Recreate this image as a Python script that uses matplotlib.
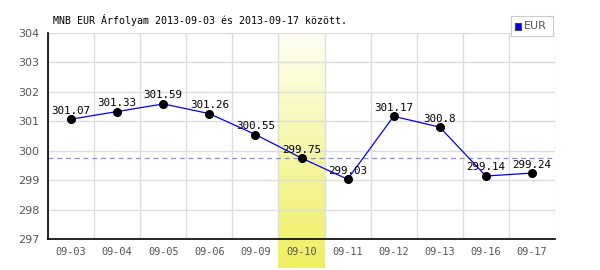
import matplotlib
matplotlib.use("Agg")
import matplotlib.pyplot as plt
import numpy as np
from matplotlib.colors import LinearSegmentedColormap

dates = ["09-03", "09-04", "09-05", "09-06", "09-09", "09-10", "09-11", "09-12", "09-13", "09-16", "09-17"]
values = [301.07, 301.33, 301.59, 301.26, 300.55, 299.75, 299.03, 301.17, 300.8, 299.14, 299.24]
labels = ["301.07", "301.33", "301.59", "301.26", "300.55", "299.75", "299.03", "301.17", "300.8", "299.14", "299.24"]
mean_line = 299.75
highlight_idx = 5
title = "MNB EUR Árfolyam 2013-09-03 és 2013-09-17 között."

mono = "DejaVu Sans Mono"
fig = plt.figure(figsize=(6, 2.7), dpi=100)
ax = fig.add_axes([48/600, 1-239/270, (555-48)/600, (239-33)/270])
n = len(dates)
x = np.arange(n)

# highlight gradient band extending below axis
ybot = 297 - 29 / (206/7)
grad = np.linspace(0, 1, 256).reshape(-1, 1)
cmap = LinearSegmentedColormap.from_list("hl", ["#efef60", "#f6f6a8", "#fffff4"])
ax.imshow(grad, cmap=cmap, aspect="auto", origin="lower",
          extent=(highlight_idx-0.5, highlight_idx+0.5, ybot, 304),
          zorder=0, clip_on=False)
ax.set_xlim(-0.5, n-0.5)
ax.set_ylim(297, 304)

# grid
for b in np.arange(-0.5, n, 1.0):
    ax.axvline(b, color="#dddddd", lw=1, zorder=0.6)
for yv in range(297, 305):
    ax.axhline(yv, color="#dddddd", lw=1, zorder=0.6)

ax.axhline(mean_line, color="#8888ff", lw=0.9, ls=(0, (4, 3)), zorder=1)
ax.plot(x, values, color="#0000ff", lw=0.9, zorder=2)
ax.plot(x, values, "o", color="black", ms=5.5, zorder=3)
for xi, v, lab in zip(x, values, labels):
    ax.text(xi, v + 0.12, lab, ha="center", va="bottom", fontsize=7.8,
            family=mono, color="black", zorder=4)

for s in ["top", "right"]:
    ax.spines[s].set_visible(False)
ax.spines["left"].set_color("black")
ax.spines["bottom"].set_color("black")
ax.spines["left"].set_linewidth(1.2)
ax.spines["bottom"].set_linewidth(1.2)
ax.set_xticks(x)
ax.set_xticklabels(dates, family=mono, fontsize=7.4, color="#555555")
ax.set_yticks(range(297, 305))
ax.set_yticklabels([str(v) for v in range(297, 305)], fontsize=8, color="#555555")
ax.tick_params(length=0, pad=6)

fig.text(53/600, 1-20/270, title, family=mono, fontsize=7.2, color="black", va="center")

# legend
lax = fig.add_axes([511/600, 1-36/270, 42/600, 20/270])
lax.set_xticks([]); lax.set_yticks([])
for s in lax.spines.values():
    s.set_color("#cccccc")
lax.set_xlim(0, 42); lax.set_ylim(0, 20)
lax.add_patch(plt.Rectangle((4, 6), 6, 7, facecolor="#0000ff", edgecolor="#444444", lw=0.8))
lax.text(13, 10, "EUR", fontsize=8, color="#555555", va="center", ha="left")

fig.savefig("out.png", dpi=100)
